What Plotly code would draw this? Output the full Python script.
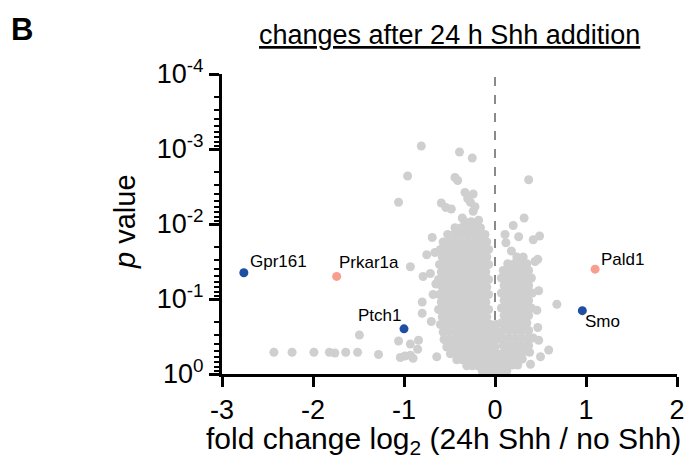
import math
import plotly.graph_objects as go

# ---------------- data ----------------
# fold change log2 (x) and -log10(p value) (L)
# dense left lobe, row by row: L of the row and x of its points
left_rows_L = [2.03, 1.95, 1.86, 1.76, 1.66, 1.56, 1.46, 1.36, 1.26, 1.16, 1.06,
               0.96, 0.86, 0.76, 0.66, 0.56, 0.46, 0.36, 0.27, 0.19, 0.11, 0.04]
left_rows_x = [
    [-0.33, -0.26],
    [-0.44, -0.37, -0.30, -0.23, -0.16],
    [-0.52, -0.45, -0.38, -0.31, -0.24, -0.17, -0.11],
    [-0.57, -0.50, -0.43, -0.36, -0.29, -0.22, -0.15, -0.09],
    [-0.60, -0.54, -0.47, -0.40, -0.33, -0.26, -0.19, -0.12, -0.07],
    [-0.58, -0.51, -0.44, -0.37, -0.30, -0.23, -0.16, -0.09],
    [-0.61, -0.55, -0.48, -0.41, -0.34, -0.27, -0.20, -0.13, -0.07],
    [-0.59, -0.52, -0.45, -0.38, -0.31, -0.24, -0.17, -0.10],
    [-0.62, -0.55, -0.48, -0.41, -0.34, -0.27, -0.20, -0.13, -0.07],
    [-0.58, -0.51, -0.44, -0.37, -0.30, -0.23, -0.16, -0.09],
    [-0.61, -0.55, -0.48, -0.41, -0.34, -0.27, -0.20, -0.13, -0.07],
    [-0.59, -0.52, -0.45, -0.38, -0.31, -0.24, -0.17, -0.10],
    [-0.62, -0.55, -0.48, -0.41, -0.34, -0.27, -0.20, -0.13, -0.07],
    [-0.58, -0.51, -0.44, -0.37, -0.30, -0.23, -0.16, -0.09],
    [-0.60, -0.54, -0.47, -0.40, -0.33, -0.26, -0.19, -0.12, -0.05, 0.01],
    [-0.57, -0.50, -0.43, -0.36, -0.29, -0.22, -0.15, -0.08, -0.02, 0.03],
    [-0.56, -0.50, -0.44, -0.38, -0.31, -0.24, -0.17, -0.10, -0.04, 0.02],
    [-0.53, -0.47, -0.41, -0.34, -0.27, -0.20, -0.13, -0.06, 0.00],
    [-0.49, -0.43, -0.37, -0.30, -0.23, -0.16, -0.09, -0.03, 0.03],
    [-0.42, -0.36, -0.30, -0.24, -0.17, -0.10, -0.04, 0.02],
    [-0.31, -0.25, -0.19, -0.12, -0.06, 0.00, 0.05],
    [-0.14, -0.07, 0.00, 0.07, 0.13],
]
# dense right lobe
right_rows_L = [1.56, 1.47, 1.38, 1.28, 1.18, 1.08, 0.98, 0.88, 0.78, 0.68,
                0.58, 0.48, 0.38, 0.29, 0.20, 0.12]
right_rows_x = [
    [0.24, 0.31],
    [0.14, 0.21, 0.28, 0.35],
    [0.09, 0.16, 0.23, 0.30, 0.37],
    [0.07, 0.13, 0.20, 0.27, 0.34, 0.40],
    [0.10, 0.17, 0.24, 0.31, 0.37],
    [0.07, 0.13, 0.20, 0.27, 0.34, 0.41],
    [0.10, 0.17, 0.24, 0.31, 0.37],
    [0.07, 0.13, 0.20, 0.27, 0.34, 0.40],
    [0.10, 0.17, 0.24, 0.31, 0.37],
    [0.07, 0.14, 0.21, 0.28, 0.35],
    [0.09, 0.16, 0.23, 0.30, 0.37],
    [0.08, 0.15, 0.22, 0.29, 0.36, 0.42],
    [0.09, 0.16, 0.23, 0.30, 0.37],
    [0.10, 0.17, 0.24, 0.31, 0.38],
    [0.09, 0.16, 0.23, 0.30],
    [0.12, 0.19, 0.25],
]
# scattered grey points outside the dense cloud
outlier_x = [-0.81, -0.39, -0.25, -0.96, -0.44, -0.41, 0.37, -1.06, -0.33, -0.24,
             -0.30, -0.27, -0.22, -0.24, -0.59, -0.54, -0.48, -0.18, -0.36, 0.32,
             0.20, 0.11, 0.26, 0.49, 0.42, 0.12, 0.18, 0.47, -0.69, -0.75,
             -0.93, -0.71, -0.79, -0.68, -0.80, -0.80, -0.70, 0.48, 0.68, 0.46,
             0.47, 0.48, 0.59, 0.50, 0.39, -1.49, -1.06, -0.93, -0.84, -0.85,
             -1.04, -0.99, -0.93, -0.90, -0.64, -2.43, -2.23, -1.99, -1.82, -1.76,
             -1.64, -1.51, -1.28, -0.66, -0.65, 0.44]
outlier_L = [3.04, 2.96, 2.88, 2.64, 2.62, 2.58, 2.59, 2.29, 2.42, 2.40,
             2.34, 2.29, 2.23, 2.17, 2.28, 2.22, 2.20, 2.05, 2.08, 2.08,
             1.98, 1.86, 1.83, 1.84, 1.79, 1.75, 1.64, 1.53, 1.82, 1.59,
             1.43, 1.34, 1.30, 1.06, 0.96, 0.81, 0.70, 1.11, 0.93, 0.85,
             0.62, 0.45, 0.32, 0.23, 0.13, 0.52, 0.44, 0.40, 0.45, 0.33,
             0.22, 0.24, 0.25, 0.21, 0.23, 0.29, 0.29, 0.29, 0.29, 0.28,
             0.29, 0.29, 0.26, 1.62, 1.20, 1.50]

# highlighted genes
genes = ["Gpr161", "Prkar1a", "Ptch1", "Pald1", "Smo"]
gene_x = [-2.76, -1.74, -1.00, 1.10, 0.96]
gene_p = [0.0447, 0.050, 0.25, 0.040, 0.143]
gene_color = ["#1f4fa3", "#f79e8f", "#1f4fa3", "#f79e8f", "#1f4fa3"]
# label placement: (xanchor, xshift, yshift)
gene_label = [("left", 4, 11), ("left", 0, 14), ("right", -1, 13),
              ("left", 4, 10), ("left", 1, -11)]

x_ticks = [-3, -2, -1, 0, 1, 2]
y_ticks = [1e-4, 1e-3, 1e-2, 1e-1, 1]
y_ticktext = ["10<sup>-4</sup>", "10<sup>-3</sup>", "10<sup>-2</sup>",
              "10<sup>-1</sup>", "10<sup>0</sup>"]

# ---------------- figure ----------------
FONT = "Liberation Sans, Arial, Helvetica, sans-serif"
GREY = "#cfcfcf"

gx, gp = [], []
for L, xs in zip(left_rows_L, left_rows_x):
    for x in xs:
        gx.append(x)
        gp.append(10 ** (-L))
for L, xs in zip(right_rows_L, right_rows_x):
    for x in xs:
        gx.append(x)
        gp.append(10 ** (-L))
for x, L in zip(outlier_x, outlier_L):
    gx.append(x)
    gp.append(10 ** (-L))

fig = go.Figure()
fig.add_trace(go.Scatter(x=gx, y=gp, mode="markers",
                         marker=dict(size=9, color=GREY, line=dict(width=0)),
                         hoverinfo="skip", showlegend=False))
fig.add_trace(go.Scatter(x=gene_x, y=gene_p, mode="markers",
                         marker=dict(size=9, color=gene_color, line=dict(width=0)),
                         text=genes, showlegend=False))

for name, x, p, (xa, xs, ys) in zip(genes, gene_x, gene_p, gene_label):
    fig.add_annotation(x=x, y=math.log10(p), xref="x", yref="y", text=name,
                       showarrow=False, xanchor=xa, yanchor="middle",
                       xshift=xs, yshift=ys,
                       font=dict(family=FONT, size=17, color="black"))

# dashed line at x = 0
fig.add_shape(type="line", xref="x", yref="paper", x0=0, x1=0, y0=0, y1=1,
              line=dict(color="#8a8a8a", width=2, dash="dash"), layer="below")

minor_vals = [k * 10.0 ** e for e in range(-4, 0) for k in range(2, 10)]

fig.update_xaxes(range=[-3, 2], tickvals=x_ticks,
                 ticktext=[str(v) for v in x_ticks],
                 showline=True, linewidth=3, linecolor="black",
                 ticks="outside", ticklen=10, tickwidth=2.5, tickcolor="black",
                 showgrid=False, zeroline=False, automargin=False,
                 tickfont=dict(family=FONT, size=27, color="black"))
fig.update_yaxes(type="log", range=[0, -4], tickvals=y_ticks, ticktext=y_ticktext,
                 showline=True, linewidth=3, linecolor="black",
                 ticks="outside", ticklen=10, tickwidth=2.5, tickcolor="black",
                 minor=dict(tickvals=minor_vals, ticks="outside", ticklen=5,
                            tickwidth=2, tickcolor="black", showgrid=False),
                 showgrid=False, zeroline=False, automargin=False,
                 tickfont=dict(family=FONT, size=27, color="black"))

# titles and panel letter
fig.add_annotation(x=0.499, y=1.13, xref="paper", yref="paper",
                   text="<u>changes after 24 h Shh addition</u>", showarrow=False,
                   xanchor="center", yanchor="middle",
                   font=dict(family=FONT, size=27, color="black"))
fig.add_annotation(x=-0.44, y=1.15, xref="paper", yref="paper",
                   text="<b>B</b>", showarrow=False,
                   xanchor="center", yanchor="middle",
                   font=dict(family=FONT, size=31, color="black"))
fig.add_annotation(x=-0.213, y=0.507, xref="paper", yref="paper",
                   text="<i>p</i> value", showarrow=False, textangle=-90,
                   xanchor="center", yanchor="middle",
                   font=dict(family=FONT, size=29, color="black"))
fig.add_annotation(x=0.487, y=-0.22, xref="paper", yref="paper",
                   text="fold change log<sub>2</sub> (24h Shh / no Shh)",
                   showarrow=False, xanchor="center", yanchor="middle",
                   font=dict(family=FONT, size=30, color="black"))

fig.update_layout(width=687, height=458, autosize=False,
                  margin=dict(l=222, r=10, t=74, b=84, autoexpand=False),
                  plot_bgcolor="white", paper_bgcolor="white",
                  showlegend=False)

# remove the page's default body margin so the figure sits at (0, 0)
fig.write_html("out.html",
               config={"responsive": False, "displayModeBar": False},
               post_script="document.documentElement.style.margin='0';"
                           "document.body.style.margin='0';"
                           "document.body.style.overflow='hidden';")
